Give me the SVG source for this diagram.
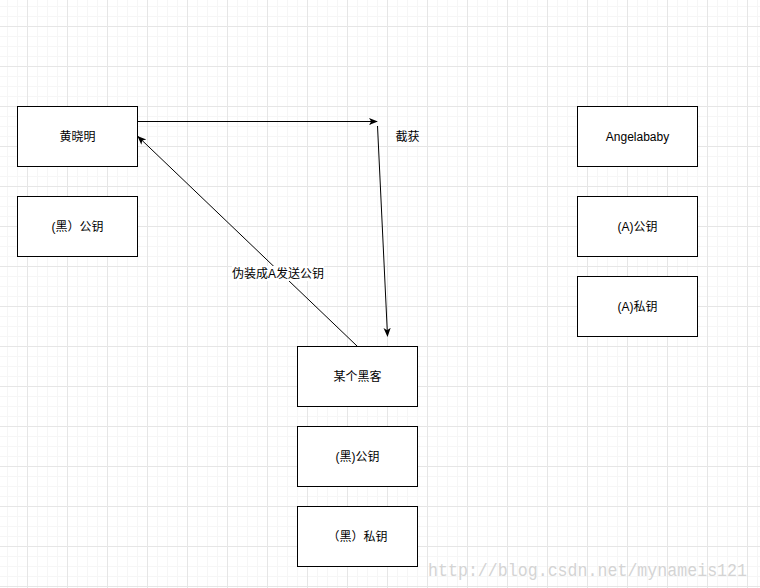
<svg xmlns="http://www.w3.org/2000/svg" width="760" height="588" viewBox="0 0 760 588">
<style>
.box{fill:#fff;stroke:#000;stroke-width:1}
.t{font-family:"Liberation Sans","Noto Sans CJK SC",sans-serif;font-size:12px;fill:#000;text-anchor:middle;dominant-baseline:central}
.edge{fill:none;stroke:#000;stroke-width:1}
</style>
<defs>
<pattern id="grid" x="27" y="26" width="40" height="40" patternUnits="userSpaceOnUse">
<rect x="10" y="0" width="1" height="40" fill="#f6f6f6"/>
<rect x="20" y="0" width="1" height="40" fill="#f6f6f6"/>
<rect x="30" y="0" width="1" height="40" fill="#f6f6f6"/>
<rect x="0" y="10" width="40" height="1" fill="#f6f6f6"/>
<rect x="0" y="20" width="40" height="1" fill="#f6f6f6"/>
<rect x="0" y="30" width="40" height="1" fill="#f6f6f6"/>
<rect x="0" y="0" width="1" height="40" fill="#e6e6e6"/>
<rect x="0" y="0" width="40" height="1" fill="#e6e6e6"/>
</pattern>
<marker id="arr" viewBox="0 0 10 10" refX="9" refY="5" markerWidth="9" markerHeight="9" markerUnits="userSpaceOnUse" orient="auto">
<path d="M0,1 L10,5 L0,9 L2.5,5 Z" fill="#000"/>
</marker>
</defs>
<rect width="760" height="588" fill="#fff"/>
<rect width="760" height="588" fill="url(#grid)"/>
<g id="connectors">
<line class="edge" x1="138" y1="121.5" x2="377" y2="121.5" marker-end="url(#arr)"/>
<line class="edge" x1="377.5" y1="126" x2="387.5" y2="336" marker-end="url(#arr)"/>
<line class="edge" x1="357" y1="346" x2="138" y2="136.5" stroke="#333" marker-end="url(#arr)"/>
<rect x="232" y="266" width="92" height="15" fill="#fff"/>
<text class="t" x="278" y="273.5">伪装成A发送公钥</text>
<text class="t" x="407.5" y="136.5">截获</text>
</g>
<g id="huangxiaoming"><rect class="box" x="17.5" y="106.5" width="120" height="60"/><text class="t" x="77.5" y="136.5">黄晓明</text></g>
<g id="hei-pub-1"><rect class="box" x="17.5" y="196.5" width="120" height="60"/><text class="t" x="77.5" y="226.5">(黑）公钥</text></g>
<g id="angelababy"><rect class="box" x="577.5" y="106.5" width="120" height="60"/><text class="t" x="637.5" y="136.5">Angelababy</text></g>
<g id="a-pub"><rect class="box" x="577.5" y="196.5" width="120" height="60"/><text class="t" x="637.5" y="226.5">(A)公钥</text></g>
<g id="a-priv"><rect class="box" x="577.5" y="276.5" width="120" height="60"/><text class="t" x="637.5" y="306.5">(A)私钥</text></g>
<g id="hacker"><rect class="box" x="297.5" y="346.5" width="120" height="60"/><text class="t" x="357.5" y="376.5">某个黑客</text></g>
<g id="hei-pub-2"><rect class="box" x="297.5" y="426.5" width="120" height="60"/><text class="t" x="357.5" y="456.5">(黑)公钥</text></g>
<g id="hei-priv"><rect class="box" x="297.5" y="506.5" width="120" height="60"/><text class="t" x="357.5" y="536.5">（黑）私钥</text></g>
<text x="428" y="576" font-family="'Liberation Mono',monospace" font-size="18" fill="#d4d4d4" textLength="319" lengthAdjust="spacingAndGlyphs">http://blog.csdn.net/mynameis121</text>
</svg>
